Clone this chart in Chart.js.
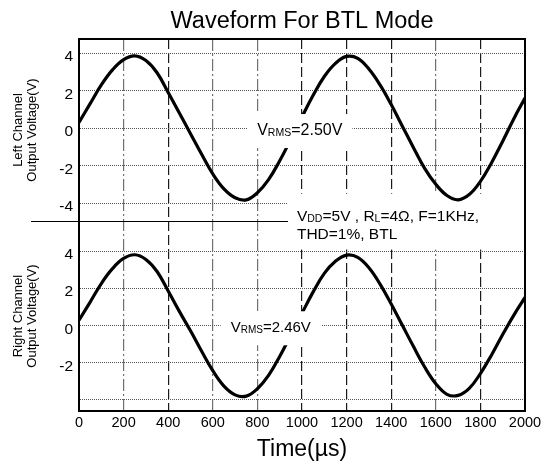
<!DOCTYPE html>
<html>
<head>
<meta charset="utf-8">
<script src="https://cdn.jsdelivr.net/npm/chart.js@4"></script>
<style>
html,body{margin:0;padding:0;background:#fff;}
#wrap{width:548px;height:471px;position:relative;}
</style>
</head>
<body>
<div id="wrap"><canvas id="c" width="548" height="471"></canvas></div>
<script>
const FONT = "'Liberation Sans', Arial, Helvetica, sans-serif";

// ---- data ----
const TIME_US = [0,50,100,150,200,250,300,350,400,450,500,550,600,650,700,750,800,850,900,950,
                 1000,1050,1100,1150,1200,1250,1300,1350,1400,1450,1500,1550,1600,1650,1700,1750,1800,1850,1900,1950,2000];
const LEFT_V  = [0.3,1.3,2.3,3.1,3.65,3.85,3.6,2.95,1.9,0.8,-0.3,-1.4,-2.45,-3.25,-3.72,-3.83,-3.45,-2.75,-1.75,-0.6,
                 0.6,1.75,2.75,3.45,3.82,3.72,3.15,2.3,1.25,0.1,-1.05,-2.15,-3.0,-3.6,-3.83,-3.55,-2.85,-1.85,-0.7,0.5,1.6];
const RIGHT_V = [0.27,1.25,2.25,3.05,3.6,3.8,3.55,2.9,1.85,0.75,-0.3,-1.4,-2.45,-3.28,-3.75,-3.82,-3.42,-2.7,-1.68,-0.52,
                 0.65,1.8,2.8,3.45,3.78,3.66,3.1,2.22,1.15,0.0,-1.15,-2.25,-3.15,-3.72,-3.78,-3.4,-2.6,-1.6,-0.5,0.55,1.5];

const X_TICKS = [0,200,400,600,800,1000,1200,1400,1600,1800,2000];
const X_TICK_LABELS = ['0','200','400','600','800','1000','1200','1400','1600','1800','2000'];
const DARK_X_GRID = [400,1000,1200,1400,1800];
const LEFT_Y_TICKS = [-4,-2,0,2,4];
const LEFT_Y_LABELS = ['-4','-2','0','2','4'];
const RIGHT_Y_TICKS = [-4,-2,0,2,4];
const RIGHT_Y_LABELS = ['','-2','0','2','4'];

const TITLE = 'Waveform For BTL Mode';
const X_TITLE = 'Time(µs)';
const LEFT_Y_TITLE = ['Left Channel','Output Voltage(V)'];
const RIGHT_Y_TITLE = ['Right Channel','Output Voltage(V)'];
const LEFT_NOTE = [{t:'V'},{t:'RMS',sub:true},{t:'=2.50V'}];
const RIGHT_NOTE = [{t:'V'},{t:'RMS',sub:true},{t:'=2.46V'}];
const COND_LINE1 = [{t:'V'},{t:'DD',sub:true},{t:'=5V , R'},{t:'L',sub:true},{t:'=4Ω, F=1KHz,'}];
const COND_LINE2 = [{t:'THD=1%, BTL'}];

// annotation anchors (data coordinates)
const LEFT_NOTE_AT = {x: 990, y: 0, size: 16, sub: 10.5};
const RIGHT_NOTE_AT = {x: 860, y: 0, size: 15, sub: 10};
const COND_BOX = {fromX: 937, topY: -3.5, bottomY: 4.08, size: 15.5, sub: 10.5};

function partsWidth(ctx, parts, size, sub){
  let w = 0;
  for (const p of parts){ ctx.font = (p.sub?sub:size)+'px '+FONT; w += ctx.measureText(p.t).width; }
  return w;
}
function drawParts(ctx, parts, x, base, size, sub){
  let cx = x;
  ctx.textBaseline = 'alphabetic'; ctx.textAlign = 'left';
  for (const p of parts){
    ctx.font = (p.sub?sub:size)+'px '+FONT;
    ctx.fillText(p.t, cx, base + (p.sub?1:0));
    cx += ctx.measureText(p.t).width;
  }
}

const decor = {
  id: 'decor',
  beforeDatasetsDraw(chart){
    const {ctx, chartArea:a, scales} = chart;
    const left = scales.x.getPixelForValue(COND_BOX.fromX);
    const top = scales.yL.getPixelForValue(COND_BOX.topY);
    const bottom = scales.yR.getPixelForValue(COND_BOX.bottomY);
    ctx.save();
    ctx.fillStyle = '#fff';
    ctx.fillRect(left, top, a.right - 1 - left, bottom - top);
    ctx.fillStyle = '#000';
    const b = scales.yL.bottom;
    drawParts(ctx, COND_LINE1, left + 9, b - 0.3, COND_BOX.size, COND_BOX.sub);
    drawParts(ctx, COND_LINE2, left + 9, b + 18, COND_BOX.size, COND_BOX.sub);
    ctx.restore();
  },
  afterDatasetsDraw(chart){
    const {ctx, scales} = chart;
    ctx.save();
    [[LEFT_NOTE, LEFT_NOTE_AT, scales.yL],[RIGHT_NOTE, RIGHT_NOTE_AT, scales.yR]].forEach(([parts, at, ys])=>{
      const cx = scales.x.getPixelForValue(at.x);
      const cy = ys.getPixelForValue(at.y);
      const w = partsWidth(ctx, parts, at.size, at.sub);
      ctx.fillStyle = '#fff';
      ctx.fillRect(cx - w/2 - 10, cy - 14, w + 20, 34);
      ctx.fillStyle = '#000';
      drawParts(ctx, parts, cx - w/2, cy + 7, at.size, at.sub);
    });
    ctx.restore();
  },
  afterDraw(chart){
    const {ctx, chartArea:a, scales} = chart;
    ctx.save();
    ctx.strokeStyle = '#000';
    ctx.lineWidth = 2;
    ctx.strokeRect(a.left, a.top, a.right - a.left, a.bottom - a.top);
    // separator between the two channels
    const y = Math.round(scales.yL.bottom) + 0.5;
    ctx.lineWidth = 1.2;
    ctx.beginPath();
    ctx.moveTo(31, y);
    ctx.lineTo(scales.x.getPixelForValue(COND_BOX.fromX), y);
    ctx.stroke();
    ctx.restore();
  }
};

function yScale(ticks, labels, min, max, weight, title){
  return {
    type: 'linear', position: 'left', stack: 'v', stackWeight: weight,
    min: min, max: max,
    afterBuildTicks: s => { s.ticks = ticks.map(v => ({value: v})); },
    afterFit: s => { s.width = 79; },
    ticks: {
      color: '#000', padding: 6,
      font: {family: FONT, size: 15.5, lineHeight: '8px'},
      callback: (v) => { const i = ticks.indexOf(v); return ['', i >= 0 ? labels[i] : '']; }
    },
    grid: { drawTicks: false, color: '#555', lineWidth: 1 },
    border: { display: true, color: '#000', width: 2, dash: [1,1] },
    title: { display: true, text: title, color: '#000',
             font: {family: FONT, size: 13, lineHeight: 1.1},
             padding: {top: 11, bottom: 0} }
  };
}

new Chart(document.getElementById('c'), {
  type: 'line',
  data: {
    datasets: [
      { label: 'Left Channel', data: TIME_US.map((t,i)=>({x:t, y:LEFT_V[i]})), yAxisID: 'yL', xAxisID: 'x',
        borderColor: '#000', borderWidth: 3.2, pointRadius: 0, fill: false, tension: 0.4 },
      { label: 'Right Channel', data: TIME_US.map((t,i)=>({x:t, y:RIGHT_V[i]})), yAxisID: 'yR', xAxisID: 'x',
        borderColor: '#000', borderWidth: 3.2, pointRadius: 0, fill: false, tension: 0.4 }
    ]
  },
  options: {
    responsive: false, animation: false,
    layout: { padding: {left: 0, right: 23, top: 0, bottom: 0} },
    plugins: {
      legend: { display: false }, tooltip: { enabled: false },
      title: { display: true, text: TITLE, fullSize: false, color: '#000',
               font: {family: FONT, size: 23.5, weight: 'normal', lineHeight: 1.2},
               padding: {top: 7.5, bottom: 3.3} }
    },
    scales: {
      x: {
        type: 'linear', position: 'bottom', min: 0, max: 2000,
        afterBuildTicks: s => { s.ticks = X_TICKS.map(v => ({value: v})); },
        afterFit: s => { s.height = 60; },
        ticks: { color: '#000', padding: 3.5, maxRotation: 0, autoSkip: false,
                 font: {family: FONT, size: 14.5},
                 callback: (v) => { const i = X_TICKS.indexOf(v); return i >= 0 ? X_TICK_LABELS[i] : ''; } },
        grid: { drawTicks: false, lineWidth: 1.2,
                color: c => (c.tick && DARK_X_GRID.includes(c.tick.value)) ? '#1a1a1a' : '#707070' },
        border: { display: true, color: '#000', width: 2,
                  dash: c => (c.tick && DARK_X_GRID.includes(c.tick.value)) ? [10,4] : [12,3,2,3] },
        title: { display: true, text: X_TITLE, color: '#000',
                 font: {family: FONT, size: 23, lineHeight: 1.2},
                 padding: {top: 0, bottom: 7.7} }
      },
      yR: yScale(RIGHT_Y_TICKS, RIGHT_Y_LABELS, -4.62, 5.62, 190, RIGHT_Y_TITLE),
      yL: yScale(LEFT_Y_TICKS, LEFT_Y_LABELS, -4.96, 4.75, 182, LEFT_Y_TITLE)
    }
  },
  plugins: [decor]
});
</script>
</body>
</html>
